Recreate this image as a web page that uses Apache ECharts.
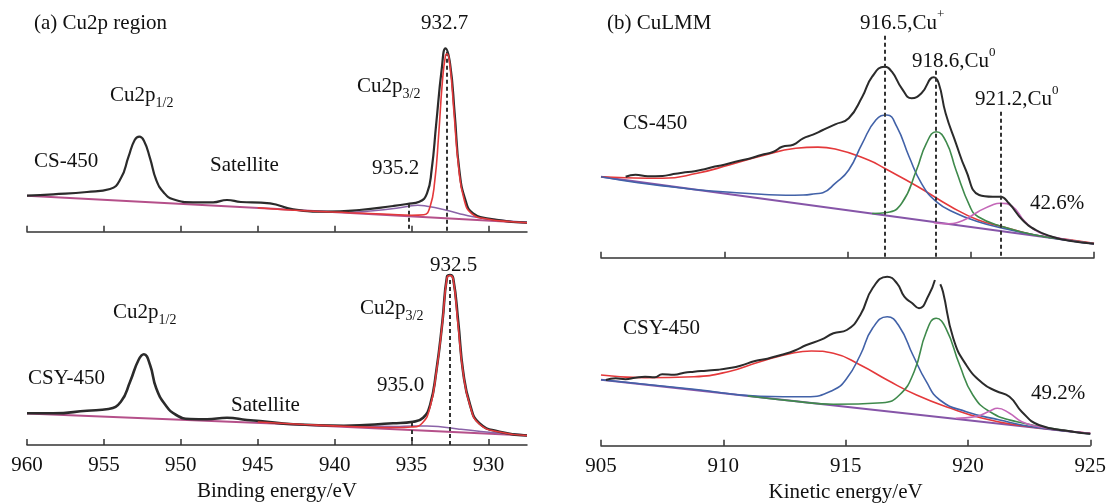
<!DOCTYPE html>
<html>
<head>
<meta charset="utf-8">
<title>Cu2p / CuLMM</title>
<script src="https://cdn.jsdelivr.net/npm/echarts@6/dist/echarts.min.js"></script>
<style>
html, body { margin: 0; padding: 0; background: #fff; }
#main { width: 1109px; height: 504px; }
</style>
</head>
<body>
<div id="main"></div>
<script>
// tick values
var beTicks = [930, 935, 940, 945, 950, 955, 960];
var keTicks = [905, 910, 915, 920, 925];

// (a) Cu2p region, CS-450  (intensity = height above the axis line)
var csRawE = [960, 958.3, 956.1, 954.6, 953.9, 953.4, 953.0, 952.7, 952.4, 952.0, 951.6, 951.1, 950.5, 949.2, 947.9, 947.0, 946.1, 944.8, 944.2, 942.7, 940.5, 938.4, 936.2, 935.3, 934.5, 934.0, 933.7, 933.4, 933.05, 932.8, 932.5, 932.2, 931.9, 931.5, 931.0, 929.7, 927.5];
var csRawI = [36, 37.4, 39.7, 42.7, 53.4, 75, 91.7, 95, 91, 73.4, 51.7, 39, 32.4, 29.4, 29.4, 31.7, 29.7, 29, 28.4, 22.4, 20, 21.7, 25.7, 27.7, 30, 38.4, 61.7, 108, 161.7, 183.4, 168, 118, 61.7, 31.7, 18.4, 12.4, 9];
var csFitE = [945, 942, 939, 936.5, 935, 934.2, 933.8, 933.5, 933.25, 933.0, 932.8, 932.7, 932.5, 932.25, 931.95, 931.6, 931.1, 930, 928.5, 927.5];
var csFitI = [24, 21, 19, 17.5, 16.5, 17, 25, 50, 95, 150, 176, 178, 165, 120, 65, 33, 18, 12.5, 10, 9];
var csBgE = [960, 944, 927.5];
var csBgI = [36, 23, 9];
var csSatE = [939, 937.5, 936, 935.2, 934.6, 934, 933, 932, 931, 929.5, 927.5];
var csSatI = [19.5, 21, 23.5, 25.5, 26.5, 25.5, 22.5, 18.5, 15, 12, 9.5];
var csLineE = [935.2, 932.7];
var csLineTop = [28, 180];

// (a) Cu2p region, CSY-450
var csyRawE = [960, 958.3, 956.1, 954.7, 953.9, 953.3, 952.75, 952.4, 952.0, 951.6, 951.0, 950.3, 949.4, 948.3, 947.0, 945.7, 944.85, 942.7, 939.4, 936.2, 934.9, 934.25, 933.8, 933.4, 933.0, 932.7, 932.5, 932.3, 931.97, 931.65, 931.2, 930.6, 929.3, 927.5];
var csyRawI = [31.7, 31.7, 34.3, 36, 43.3, 63.3, 85, 90.7, 80, 56.7, 40, 30, 26, 25.7, 27.3, 25, 24, 20.7, 19.3, 21.7, 23.3, 27.3, 40, 73.3, 123, 168.3, 170, 166.7, 123, 73, 40, 21.7, 13.3, 9.5];
var csyFitE = [945, 942, 939, 936, 935, 934.3, 933.8, 933.4, 933.0, 932.7, 932.5, 932.3, 932.0, 931.65, 931.2, 930.6, 929.3, 927.5];
var csyFitI = [23, 20.5, 18.5, 17.5, 18, 22, 38, 72, 122, 167, 169.5, 166, 123, 72, 39, 21, 13, 9.5];
var csyBgE = [960, 944, 927.5];
var csyBgI = [31.5, 21.5, 9.5];
var csySatE = [940, 938, 936, 935, 934, 933, 932, 930.5, 929, 927.5];
var csySatI = [19, 18.8, 18.6, 19, 19, 18, 16, 13.5, 11.5, 10];
var csyLineE = [935.0, 932.5];
var csyLineTop = [22, 165];

// (b) CuLMM, CS-450
var lmRawE = [906.0, 906.4, 906.9, 907.5, 907.9, 908.3, 908.8, 909.2, 909.5, 910.0, 910.45, 911.0, 911.5, 912.0, 912.35, 912.8, 913.2, 913.6, 914.0, 914.5, 915.05, 915.6, 916.0, 916.5, 916.8, 917.2, 917.6, 918.0, 918.5, 918.7, 918.98, 919.4, 919.8, 920.34, 920.9, 921.2, 921.55, 922.1, 922.64, 923.3, 924.0, 925];
var lmRawI = [81, 83, 81.5, 81.7, 83.5, 85, 86.5, 88.5, 90.4, 93, 96, 99, 102.7, 106, 111, 113, 119.4, 123, 127.7, 133.4, 139.4, 161, 181, 191, 186, 169.4, 159.4, 164.4, 180.4, 174.4, 144.4, 114.4, 87.7, 62.7, 61, 61, 54.4, 37.7, 27.7, 21, 17, 14];
var lmBroadE = [905, 906, 907.5, 908.9, 910.2, 911.5, 912.9, 913.8, 914.5, 915.85, 916.5, 917.86, 919.2, 920.3, 921.3, 922.6, 924.3, 925];
var lmBroadI = [81, 80, 79.4, 84.4, 92.7, 101.7, 109.4, 110.6, 108.7, 97.7, 89.4, 71, 51, 37.7, 31, 22.7, 17, 14.5];
var lmCu1E = [905, 906.5, 908, 909, 910.5, 911.5, 912.5, 913.2, 913.7, 914.0, 914.5, 915.05, 915.6, 916.15, 916.6, 917.0, 917.5, 918.0, 918.6, 919.4, 920.3, 921.3, 922.6, 924.3, 925];
var lmCu1I = [81, 75, 70.5, 67.7, 65, 63.4, 62.5, 62.7, 64, 65, 74.4, 87.7, 114.4, 137.7, 142.7, 131, 101, 74.4, 56, 44.4, 36, 29.4, 22.7, 16, 14];
var lmCu0aE = [916.0, 916.6, 917.2, 917.8, 918.2, 918.6, 919.0, 919.4, 919.97, 920.3, 921.3, 922.6, 924.3, 925];
var lmCu0aI = [44.2, 45.2, 54.4, 87.7, 114.4, 126, 116, 87.7, 51, 41, 31, 22.7, 16.5, 14];
var lmCu0bE = [918.5, 919.0, 919.66, 920.3, 920.9, 921.2, 921.7, 922.2, 922.8, 923.7, 925];
var lmCu0bI = [35, 34, 37, 46, 53, 54.5, 51, 36, 25, 19, 14];
var lmBgE = [905, 925];
var lmBgI = [81, 14];

// (b) CuLMM, CSY-450
var lmyRawE = [905.2, 905.6, 906.0, 906.4, 906.8, 907.2, 907.5, 908.0, 908.4, 908.8, 909.3, 909.8, 910.2, 910.7, 911.3, 911.8, 912.35, 912.9, 913.4, 914.0, 914.5, 915.05, 915.6, 916.1, 916.7, 917.1, 917.4, 917.7, 918.0, 918.4, 918.65, 918.76, 918.87, 918.98, 919.4, 919.93, 920.6, 921.15, 921.7, 922.2, 922.9, 924.3, 925];
var lmyRawI = [65.7, 67.4, 66.5, 68, 69, 68.5, 71.4, 71, 73, 74, 75, 76, 77.4, 80, 84.7, 87, 90.7, 95, 100.7, 106, 112.4, 115.7, 130.7, 157.4, 169, 162.4, 149, 143, 137.4, 150.7, 165.7, '-', 161.4, 154, 107.4, 80.7, 62.4, 54.7, 49, 34, 20.7, 14, 12];
var lmyBroadE = [905, 906.8, 908.8, 910.2, 911.5, 912.9, 913.6, 914.5, 915.6, 916.7, 917.9, 919.3, 920.6, 922, 924.3, 925];
var lmyBroadI = [70.7, 68, 69, 74, 84, 93, 94.7, 92.4, 80.7, 65.7, 50.7, 37.4, 27.4, 20.7, 14, 12.5];
var lmyCu1E = [905, 907, 908.8, 911.5, 913.4, 914.5, 915.05, 915.6, 916.1, 916.7, 917.2, 917.75, 918.3, 918.85, 919.93, 921.3, 922.6, 924.3, 925];
var lmyCu1I = [66, 61, 56.5, 49.5, 49, 55.7, 67.4, 90.7, 117.4, 129, 119, 90.7, 64, 45.7, 34, 25.7, 19, 14, 12];
var lmyCu0aE = [911, 913, 914.5, 916.5, 917.2, 917.8, 918.3, 918.7, 919.1, 919.66, 920.2, 920.9, 922, 924.3, 925];
var lmyCu0aI = [49.7, 44.3, 41.5, 43, 50.7, 74, 114, 127.4, 117.4, 80.7, 50.7, 34, 24, 14, 12];
var lmyCu0bE = [919.5, 920.3, 920.9, 921.2, 921.7, 922.2, 922.9, 923.7, 925];
var lmyCu0bI = [27.5, 29, 34.7, 37.4, 32.4, 24, 19, 16, 12.5];
var lmyBgE = [905, 925];
var lmyBgI = [66, 12];

var lmLineE = [916.5, 918.6, 921.2];
var lmLineTop = [222, 187, 146];
var lmyLineTop = [188, 188, 188];

var serif = 'Liberation Serif';

function pairs(xs, ys) {
    return xs.map(function (x, i) { return [x, ys[i]]; });
}

function line(gi, xs, ys, color, width, z) {
    return {
        type: 'line',
        xAxisIndex: gi,
        yAxisIndex: gi,
        data: pairs(xs, ys),
        symbol: 'none',
        smooth: 0.5,
        silent: true,
        z: z,
        lineStyle: { color: color, width: width }
    };
}

function dashes(xs, tops) {
    return {
        silent: true,
        symbol: 'none',
        label: { show: false },
        lineStyle: { color: '#333', width: 2, type: [4, 3] },
        data: xs.map(function (x, i) {
            return [{ coord: [x, tops[i]] }, { coord: [x, 0] }];
        })
    };
}

function xAx(gi, lo, hi, ticks, inverse, labels, name) {
    return {
        type: 'value',
        gridIndex: gi,
        min: lo,
        max: hi,
        inverse: inverse,
        splitLine: { show: false },
        axisLine: { onZero: false, lineStyle: { color: '#333', width: 1.5 } },
        axisTick: { inside: true, length: 6, customValues: ticks, lineStyle: { color: '#333', width: 1.5 } },
        axisLabel: { show: labels, customValues: ticks, margin: 10, color: '#111', fontFamily: serif, fontSize: 21 },
        name: name,
        nameLocation: 'middle',
        nameGap: 36,
        nameTextStyle: { color: '#111', fontFamily: serif, fontSize: 21 }
    };
}

function yAx(gi, hi) {
    return { type: 'value', gridIndex: gi, min: 0, max: hi, show: false };
}

var rich = {
    m: { fontFamily: serif, fontSize: 21, color: '#111', lineHeight: 30 },
    s: { fontFamily: serif, fontSize: 14, color: '#111', lineHeight: 14, verticalAlign: 'bottom' },
    p: { fontFamily: serif, fontSize: 13, color: '#111', lineHeight: 13, verticalAlign: 'top' }
};

var notes = [
    ['{m|(a) Cu2p region}', 34, 23],
    ['{m|932.7}', 421, 23],
    ['{m|Cu2p}{s|1/2}', 110, 95],
    ['{m|CS-450}', 34, 161],
    ['{m|Satellite}', 210, 165],
    ['{m|Cu2p}{s|3/2}', 357, 86],
    ['{m|935.2}', 372, 168],
    ['{m|Cu2p}{s|1/2}', 113, 312],
    ['{m|CSY-450}', 28, 378],
    ['{m|Satellite}', 231, 405],
    ['{m|Cu2p}{s|3/2}', 360, 308],
    ['{m|935.0}', 377, 385],
    ['{m|932.5}', 430, 265],
    ['{m|(b) CuLMM}', 607, 23],
    ['{m|916.5,Cu}{p|+}', 860, 23],
    ['{m|918.6,Cu}{p|0}', 912, 61],
    ['{m|921.2,Cu}{p|0}', 975, 99],
    ['{m|CS-450}', 623, 123],
    ['{m|42.6%}', 1030, 203],
    ['{m|CSY-450}', 623, 328],
    ['{m|49.2%}', 1031, 393]
];

var chart = echarts.init(document.getElementById('main'));

var csRed = line(0, csFitE, csFitI, '#e4393b', 1.6, 5);
csRed.markLine = dashes(csLineE, csLineTop);
var csyRed = line(1, csyFitE, csyFitI, '#e4393b', 1.6, 5);
csyRed.markLine = dashes(csyLineE, csyLineTop);
var lmBg = line(2, lmBgE, lmBgI, '#8655a8', 2, 2);
lmBg.markLine = dashes(lmLineE, lmLineTop);
var lmyBg = line(3, lmyBgE, lmyBgI, '#8655a8', 2, 2);
lmyBg.markLine = dashes(lmLineE, lmyLineTop);

var option = {
    animation: false,
    textStyle: { fontFamily: serif },
    grid: [
        { left: 27, top: 30, width: 500, height: 201.7 },
        { left: 27, top: 255, width: 500, height: 190 },
        { left: 601, top: 30, width: 493, height: 227.7 },
        { left: 601, top: 258, width: 493, height: 187.7 }
    ],
    xAxis: [
        xAx(0, 927.5, 960, beTicks, true, false, ''),
        xAx(1, 927.5, 960, beTicks, true, true, 'Binding energy/eV'),
        xAx(2, 905, 925, keTicks, false, false, ''),
        xAx(3, 905, 925, keTicks, false, true, 'Kinetic energy/eV')
    ],
    yAxis: [yAx(0, 201.7), yAx(1, 190), yAx(2, 227.7), yAx(3, 187.7)],
    series: [
        line(0, csBgE, csBgI, '#b5508a', 2, 2),
        line(0, csSatE, csSatI, '#8a63a8', 1.5, 3),
        line(0, csRawE, csRawI, '#2b2b2b', 2.2, 4),
        csRed,
        line(1, csyBgE, csyBgI, '#b5508a', 2, 2),
        line(1, csySatE, csySatI, '#8a63a8', 1.5, 3),
        line(1, csyRawE, csyRawI, '#2b2b2b', 2.6, 4),
        csyRed,
        lmBg,
        line(2, lmBroadE, lmBroadI, '#e4393b', 1.6, 3),
        line(2, lmCu1E, lmCu1I, '#4262a8', 1.6, 3),
        line(2, lmCu0aE, lmCu0aI, '#3f8a4c', 1.6, 3),
        line(2, lmCu0bE, lmCu0bI, '#c467b8', 1.6, 3),
        line(2, lmRawE, lmRawI, '#2b2b2b', 2, 4),
        lmyBg,
        line(3, lmyBroadE, lmyBroadI, '#e4393b', 1.6, 3),
        line(3, lmyCu1E, lmyCu1I, '#4262a8', 1.6, 3),
        line(3, lmyCu0aE, lmyCu0aI, '#3f8a4c', 1.6, 3),
        line(3, lmyCu0bE, lmyCu0bI, '#c467b8', 1.6, 3),
        line(3, lmyRawE, lmyRawI, '#2b2b2b', 2, 4)
    ],
    graphic: notes.map(function (n) {
        return {
            type: 'text',
            x: n[1],
            y: n[2],
            silent: true,
            z: 100,
            style: { text: n[0], rich: rich, verticalAlign: 'middle', align: 'left', fill: '#111' }
        };
    })
};

chart.setOption(option);
</script>
</body>
</html>
